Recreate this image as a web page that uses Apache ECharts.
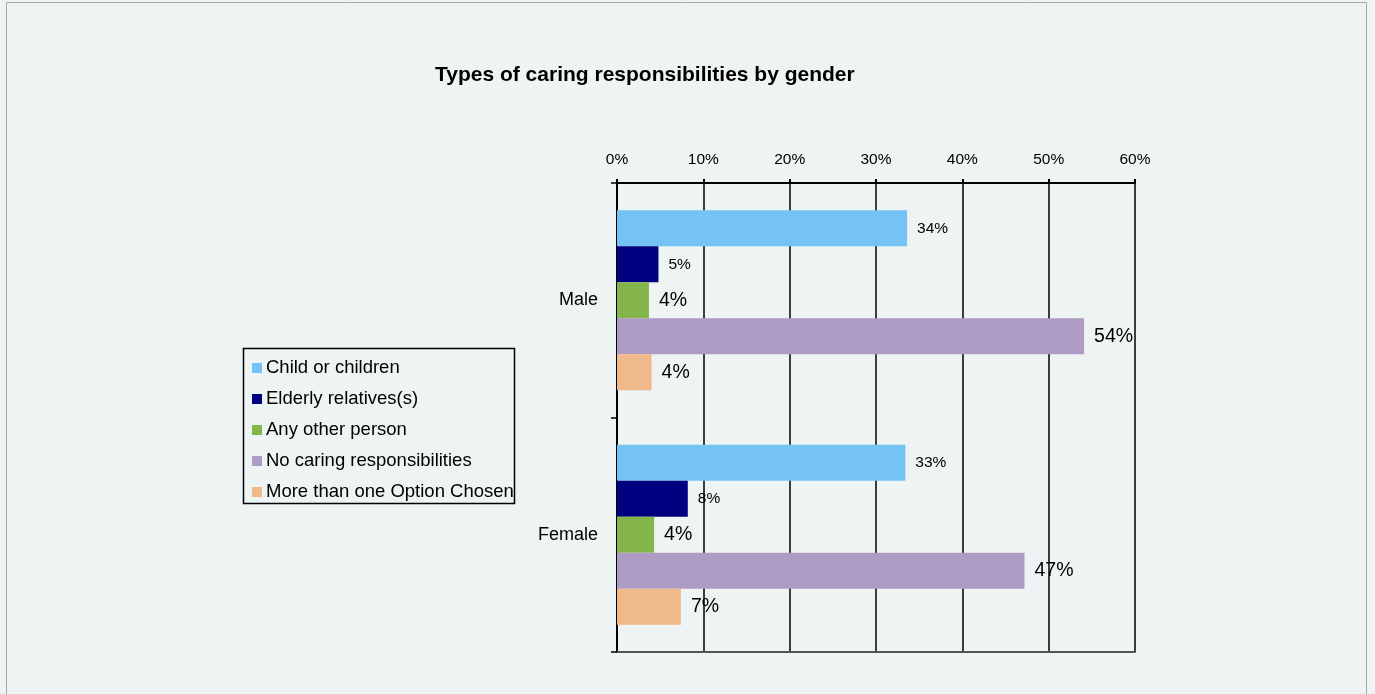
<!DOCTYPE html>
<html>
<head>
<meta charset="utf-8">
<script src="https://cdn.jsdelivr.net/npm/echarts@6/dist/echarts.min.js"></script>
<style>
  html, body { margin: 0; padding: 0; background: #EEF3F3; }
  #chart { width: 1375px; height: 694px; }
</style>
</head>
<body>
<div id="chart"></div>
<script>
// Respondent groups (top to bottom)
const genders = ['Male', 'Female'];

// Share of respondents (%) per caring type, ordered as genders
const childOrChildren = [33.6, 33.4];
const elderlyRelatives = [4.8, 8.2];
const anyOtherPerson = [3.7, 4.3];
const noCaring = [54.1, 47.2];
const moreThanOne = [4.0, 7.4];

const seriesNames = [
  'Child or children',
  'Elderly relatives(s)',
  'Any other person',
  'No caring responsibilities',
  'More than one Option Chosen'
];

// Percentage axis ticks
const axisMin = 0;
const axisMax = 60;
const axisStep = 10;

const seriesValues = [childOrChildren, elderlyRelatives, anyOtherPerson, noCaring, moreThanOne];
const colors = ['#75C3F4', '#000080', '#84B44C', '#AE9BC3', '#F0B98A'];
const labelSizes = [15.5, 15.5, 19.5, 19.5, 19.5];

const font = '"Liberation Sans", Arial, sans-serif';

const chart = echarts.init(document.getElementById('chart'));

chart.setOption({
  backgroundColor: '#EEF3F3',
  animation: false,
  title: {
    text: 'Types of caring responsibilities by gender',
    left: 430,
    top: 60,
    textStyle: { fontFamily: font, fontSize: 21, fontWeight: 'bold', color: '#000' }
  },
  graphic: [
    {
      type: 'rect',
      shape: { x: 6.5, y: 2.5, width: 1360, height: 720 },
      style: { fill: 'none', stroke: '#A8A8A8', lineWidth: 1 },
      silent: true
    },
    {
      type: 'rect',
      shape: { x: 243.5, y: 348.5, width: 271, height: 155 },
      style: { fill: 'none', stroke: '#000', lineWidth: 1.5 },
      silent: true,
      z: 10
    }
  ],
  legend: {
    orient: 'vertical',
    left: 252,
    top: 358,
    padding: 0,
    itemWidth: 10,
    itemHeight: 10,
    itemGap: 11,
    icon: 'rect',
    textStyle: { fontFamily: font, fontSize: 18.5, color: '#000', lineHeight: 20, padding: [0, 0, 0, -1] },
    data: seriesNames
  },
  grid: {
    left: 617,
    top: 183,
    width: 518,
    height: 469
  },
  xAxis: [
    {
      type: 'value',
      position: 'top',
      min: axisMin,
      max: axisMax,
      interval: axisStep,
      axisLine: { show: true, lineStyle: { color: '#000', width: 2 } },
      axisTick: { show: true, length: 4, lineStyle: { color: '#000', width: 2 } },
      axisLabel: {
        formatter: v => v + '%',
        fontFamily: font,
        fontSize: 15.5,
        color: '#000',
        margin: 15
      },
      splitLine: { show: true, lineStyle: { color: '#000', width: 1.5 } }
    },
    {
      type: 'value',
      position: 'bottom',
      min: axisMin,
      max: axisMax,
      interval: axisStep,
      axisLine: { show: true, lineStyle: { color: '#555', width: 2 } },
      axisTick: { show: false },
      axisLabel: { show: false },
      splitLine: { show: false }
    }
  ],
  yAxis: {
    type: 'category',
    inverse: true,
    data: genders,
    axisLine: { show: true, lineStyle: { color: '#000', width: 2 } },
    axisTick: { show: true, length: 6, lineStyle: { color: '#000', width: 1.5 } },
    axisLabel: { fontFamily: font, fontSize: 18, color: '#000', margin: 19 }
  },
  series: seriesNames.map((name, i) => ({
    name,
    type: 'bar',
    xAxisIndex: 0,
    data: seriesValues[i],
    barWidth: 36,
    barGap: '0%',
    itemStyle: { color: colors[i] },
    label: {
      show: true,
      position: 'right',
      distance: 10,
      formatter: p => Math.round(p.value) + '%',
      fontFamily: font,
      fontSize: labelSizes[i],
      color: '#000'
    }
  }))
});
</script>
</body>
</html>
